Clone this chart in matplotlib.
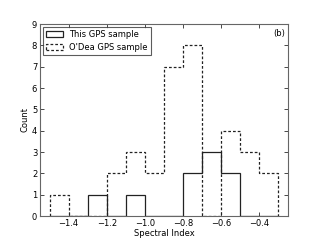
import numpy as np
import matplotlib
matplotlib.use('Agg')
import matplotlib.pyplot as plt

plt.rcParams['font.family'] = 'DejaVu Sans'
plt.rcParams['font.size'] = 6

# bin edges of the spectral index histograms
bin_edges = np.round(np.arange(-1.5, -0.25, 0.1), 2)
# counts per bin (13 edges -> 12 bins)
this_counts = [0, 0, 1, 0, 1, 0, 0, 2, 3, 2, 0, 0]
odea_counts = [1, 0, 0, 2, 3, 2, 7, 8, 0, 4, 3, 2]
xticks = [-1.4, -1.2, -1.0, -0.8, -0.6, -0.4]

centers = (bin_edges[:-1] + bin_edges[1:]) / 2

fig, ax = plt.subplots(figsize=(3.2, 2.4), dpi=100)
fig.subplots_adjust(left=0.125, right=0.9, bottom=0.1, top=0.9)

ax.hist(centers, bins=bin_edges, weights=this_counts, histtype='step',
        color='#222222', linewidth=0.9, label='This GPS sample')
ax.hist(centers, bins=bin_edges, weights=odea_counts, histtype='step',
        color='#222222', linewidth=0.9, linestyle=(0, (2.2, 1.6)),
        label="O'Dea GPS sample")

ax.set_xlim(-1.55, -0.25)
ax.set_ylim(0, 9)
ax.set_xticks(xticks)
ax.set_yticks(range(10))
ax.tick_params(direction='in', top=True, right=True, length=3, width=0.5, pad=2)
for s in ax.spines.values():
    s.set_linewidth(0.8)
    s.set_color('#666666')

ax.set_xlabel('Spectral Index', labelpad=1)
ax.set_ylabel('Count', labelpad=2)
ax.text(0.99, 0.975, '(b)', transform=ax.transAxes, ha='right', va='top')

leg = ax.legend(loc='upper left', fancybox=False, borderaxespad=0.3,
                handlelength=2.0, borderpad=0.4, labelspacing=0.5,
                handletextpad=0.8)
leg.get_frame().set_edgecolor('#333333')
leg.get_frame().set_linewidth(0.8)

fig.savefig('out.png', dpi=100)
